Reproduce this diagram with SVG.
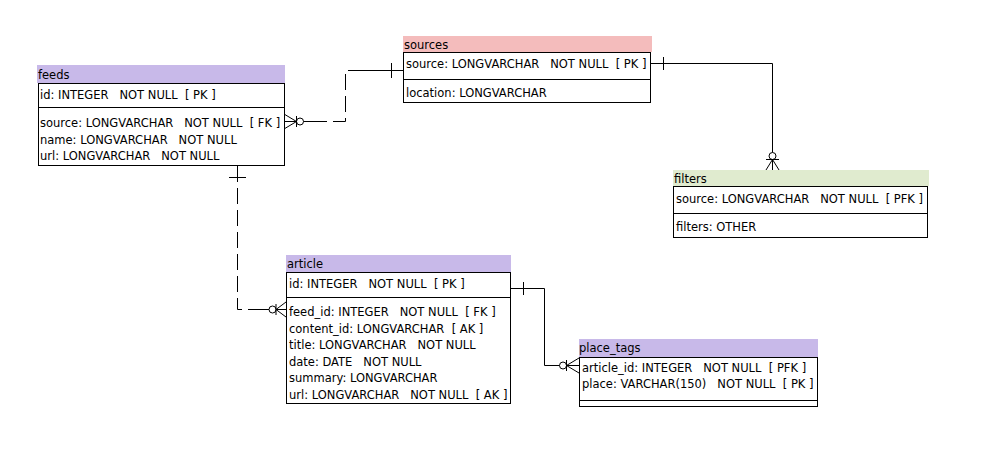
<svg xmlns="http://www.w3.org/2000/svg" width="1005" height="476" viewBox="0 0 1005 476">
<style>
text{font-family:"DejaVu Sans","Liberation Sans",sans-serif;font-size:11.5px;fill:#000;white-space:pre}
.box{fill:#fff;stroke:#000;stroke-width:1}
.sep{stroke:#000;stroke-width:1}
.hp{fill:#c8b9e9}
.hr{fill:#f4bcbc}
.hg{fill:#e0ebcf}
.ln{fill:none;stroke:#000;stroke-width:1}
.dash{fill:none;stroke:#000;stroke-width:1;stroke-dasharray:16,6}
</style>
<rect width="1005" height="476" fill="#fff"/>
<g id="connectors">
  <!-- sources -> feeds -->
  <path class="dash" d="M364,70.5 H345.5 V121.5 H320"/>
  <path class="ln" d="M403,70.5 H364 M391.5,63 V78 M320,121.5 H303.5"/>
  <circle class="ln" cx="300" cy="121.5" r="3.5"/>
  <path class="ln" d="M296.5,121.5 L284,114 M296.5,121.5 L284,121.5 M296.5,121.5 L284,129 M296.5,116 V127"/>
  <!-- sources -> filters -->
  <path class="ln" d="M651,63.5 H772.5 V152.5 M663.5,57 V70"/>
  <circle class="ln" cx="772.5" cy="156" r="3.5"/>
  <path class="ln" d="M772.5,159.5 L766,170 M772.5,159.5 V170 M772.5,159.5 L779,170 M766,159.5 H779"/>
  <!-- feeds -> article -->
  <path class="dash" d="M237.5,166 V309.5 H252"/>
  <path class="ln" d="M237.5,166 V181 M229,177.5 H246 M252,309.5 H269"/>
  <circle class="ln" cx="272.5" cy="309.5" r="3.5"/>
  <path class="ln" d="M276,309.5 L286,302 M276,309.5 H286 M276,309.5 L286,317 M276,304 V315"/>
  <!-- article -> place_tags -->
  <path class="ln" d="M511,288.5 H544.5 V365.5 H559.5 M523.5,282 V295"/>
  <circle class="ln" cx="563" cy="365.5" r="3.5"/>
  <path class="ln" d="M566.5,365.5 L579,358 M566.5,365.5 H579 M566.5,365.5 L579,373 M566.5,360 V371"/>
</g>
<g id="feeds">
  <rect class="hp" x="37" y="65" width="248" height="18"/>
  <text x="38" y="79">feeds</text>
  <rect class="box" x="38.5" y="83.5" width="246" height="82"/>
  <line class="sep" x1="38.5" y1="107.5" x2="284.5" y2="107.5"/>
  <text x="40" y="99">id: INTEGER   NOT NULL  [ PK ]</text>
  <text x="40" y="127">source: LONGVARCHAR   NOT NULL  [ FK ]</text>
  <text x="40" y="143.5">name: LONGVARCHAR   NOT NULL</text>
  <text x="40" y="160">url: LONGVARCHAR   NOT NULL</text>
</g>
<g id="sources">
  <rect class="hr" x="403" y="36" width="249" height="16"/>
  <text x="404" y="49">sources</text>
  <rect class="box" x="403.5" y="52.5" width="247" height="50"/>
  <line class="sep" x1="403.5" y1="79.5" x2="650.5" y2="79.5"/>
  <text x="406" y="68">source: LONGVARCHAR   NOT NULL  [ PK ]</text>
  <text x="406" y="97">location: LONGVARCHAR</text>
</g>
<g id="filters">
  <rect class="hg" x="673" y="170" width="256" height="16"/>
  <text x="674" y="183">filters</text>
  <rect class="box" x="673.5" y="186.5" width="254" height="51"/>
  <line class="sep" x1="673.5" y1="213.5" x2="927.5" y2="213.5"/>
  <text x="676" y="203">source: LONGVARCHAR   NOT NULL  [ PFK ]</text>
  <text x="676" y="231">filters: OTHER</text>
</g>
<g id="article">
  <rect class="hp" x="286" y="255" width="225" height="17"/>
  <text x="287" y="268">article</text>
  <rect class="box" x="286.5" y="272.5" width="224" height="131"/>
  <line class="sep" x1="286.5" y1="297.5" x2="510.5" y2="297.5"/>
  <text x="289" y="288">id: INTEGER   NOT NULL  [ PK ]</text>
  <text x="289" y="316">feed_id: INTEGER   NOT NULL  [ FK ]</text>
  <text x="289" y="332.5">content_id: LONGVARCHAR  [ AK ]</text>
  <text x="289" y="349">title: LONGVARCHAR   NOT NULL</text>
  <text x="289" y="365.5">date: DATE   NOT NULL</text>
  <text x="289" y="382">summary: LONGVARCHAR</text>
  <text x="289" y="398.5">url: LONGVARCHAR   NOT NULL  [ AK ]</text>
</g>
<g id="place_tags">
  <rect class="hp" x="579" y="339" width="239" height="18"/>
  <text x="579" y="352">place_tags</text>
  <rect class="box" x="579.5" y="357.5" width="238" height="49"/>
  <line class="sep" x1="579.5" y1="400.5" x2="817.5" y2="400.5"/>
  <text x="582" y="372">article_id: INTEGER   NOT NULL  [ PFK ]</text>
  <text x="582" y="388">place: VARCHAR(150)   NOT NULL  [ PK ]</text>
</g>
</svg>
